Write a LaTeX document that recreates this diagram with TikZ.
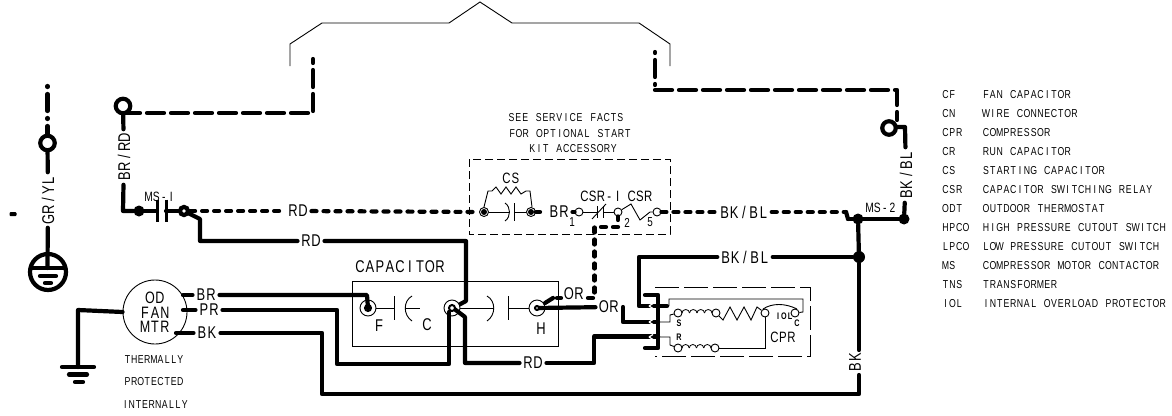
\documentclass[tikz,border=0pt]{standalone}
\usepackage{fontspec}
\setmainfont[FakeStretch=0.76]{Liberation Sans}
\ExplSyntaxOn
\NewDocumentCommand{\mono}{mm}{
  \str_map_inline:nn {#2} { \makebox[#1pt][c]{##1} }
}
\ExplSyntaxOff
\newcommand{\legendrow}[3]{%
  \node[legtxt,anchor=west] (abbr#1) at (942,#1) {\mono{6.8}{#2}};
  \node[legtxt,anchor=west] (desc#1) at (982.5,#1) {\mono{6.8}{#3}};
}
\tikzset{
  x=1pt,y=-1pt,
  wire/.style={line width=4.2pt,line cap=round,line join=round,black},
  dashlong/.style={wire,dash pattern=on 17pt off 7pt},
  dashshort/.style={wire,dash pattern=on 5pt off 7pt},
  thin line/.style={line width=0.9pt,black},
  coilline/.style={line width=0.8pt,black},
  lbl/.style={inner sep=0pt,outer sep=3.5pt,font=\fontsize{17}{17}\selectfont},
  lblv/.style={lbl,rotate=90},
  lblm/.style={inner sep=0pt,font=\fontsize{13.5}{14}\selectfont},
  lblb/.style={inner sep=0pt,font=\fontsize{17}{17}\selectfont},
  legtxt/.style={inner sep=0pt,font=\fontsize{11.5}{12}\selectfont},
  tiny/.style={inner sep=0pt,font=\bfseries\fontsize{9.5}{10}\selectfont},
  dotnode/.style={circle,fill=black,inner sep=0pt,minimum size=#1},
  ringthick/.style={circle,draw,line width=4.2pt,inner sep=0pt,minimum size=#1,fill=white},
  term/.style={circle,draw,line width=0.9pt,inner sep=0pt,minimum size=#1,fill=white},
  box/.style={line width=0.9pt,black},
  dbox/.style={line width=0.9pt,black,dash pattern=on 8pt off 4pt},
  dboxlong/.style={line width=0.9pt,black,dash pattern=on 24pt off 5pt},
}
\begin{document}
\begin{tikzpicture}
\useasboundingbox (0,0) rectangle (1172,415);
% roof
\draw[thin line] (290,66) -- (290,44) -- (322,23) -- (449,23) -- (480,2) -- (512,23) -- (639,23) -- (670,44) -- (670,66);

% ground left
\coordinate (gt) at (47.5,86);
\node[ringthick=14.5pt] (gring) at (47.5,143) {};
\node[lblv] (grlbl) at (48,200) {\mono{9.7}{GR/YL}};
\coordinate (gbar) at (47.5,268);
\draw[dashlong,dash pattern=on 1pt off 7pt on 17pt off 7pt] (gt) -- (gring);
\draw[wire] (gring) -- (grlbl);
\draw[wire] (grlbl) -- (gbar);
\node[circle,draw,line width=4.2pt,minimum size=36pt,inner sep=0pt] (gc) at (48,272) {};
\draw[wire,line cap=butt] (29,268) -- (67,268);
\draw[wire] (40,276) -- (56,276);
\draw[wire] (45,283) -- (51,283);
\node[fill=black,minimum width=7pt,minimum height=4pt,inner sep=0pt,rounded corners=1pt] (speck) at (13,214) {};

% top-left
\node[ringthick=14.5pt] (lring) at (123,106) {};
\coordinate (lup) at (313,59);
\coordinate (lcor) at (313,113);
\draw[dashlong] (123,113) -- (lcor) -- (lup);
\node[lblv] (brrd) at (124,157) {\mono{9.7}{BR/RD}};
\draw[wire] (lring) -- (brrd);
\coordinate (brc) at (123,211);
\node[dotnode=11pt] (msdot) at (139,211) {};
\draw[wire] (brrd) -- (brc) -- (msdot);
\node[lblm] (ms1) at (160,197) {\mono{7.6}{MS-I}};
\coordinate (p1) at (157,211);
\coordinate (p2) at (166,211);
\draw[wire] (msdot) -- (p1);
\draw[line width=3pt] (157,199.5) -- (157,221.5);
\draw[line width=3pt] (166,199.5) -- (166,221.5);
\node[ringthick=8pt] (mst) at (184,211) {};
\draw[wire] (p2) -- (mst);

% RD dashed
\node[lbl] (rd1) at (298,211) {\mono{10}{RD}};
\draw[dashshort] (mst) -- (rd1);
% RD solid
\coordinate (c1) at (200,219);
\coordinate (c2) at (200,241);
\node[lbl] (rd2) at (311,241) {\mono{10}{RD}};
\draw[wire] (mst) -- (c1) -- (c2) -- (rd2);
\coordinate (c3) at (466,241);
\coordinate (c4) at (466,301);
\coordinate (c5) at (453,308);
\draw[wire] (rd2) -- (c3) -- (c4) -- (c5);

% CS group
\draw[dbox] (469,159) rectangle (670,234);
\node[legtxt] at (566,118) {\mono{6.8}{SEE SERVICE FACTS}};
\node[legtxt] at (570,134) {\mono{6.8}{FOR OPTIONAL START}};
\node[legtxt] at (573,149) {\mono{6.8}{KIT ACCESSORY}};
\node[lblm,font=\fontsize{15}{15}\selectfont] (cslbl) at (511,178) {\mono{9}{CS}};
\node[term=9pt] (cs1) at (484,212) {};
\node[term=9pt] (cs2) at (531,212) {};
\draw[dashshort] (rd1) -- (cs1);
\node[dotnode=6pt] at (cs1) {};
\node[dotnode=6pt] at (cs2) {};
\draw[thin line] (cs1) -- (509,212);
\draw[thin line] (514,212) -- (cs2);
\draw[thin line] (514,203) -- (514,221);
\draw[thin line] (505,203) .. controls (511,207) and (511,217) .. (505,221);
\draw[thin line] (484,207) -- (488,191) -- (492,191) -- (496,187) -- (501,194) -- (506,187) -- (511,194) -- (516,187) -- (521,194) -- (526,191) -- (530,191) -- (532,207);
\node[lbl] (brl) at (559,212) {\mono{10}{BR}};
\draw[wire] (cs2) -- (540,212);
\node[term=8pt] (t1) at (579,212) {};
\draw[wire] (brl) -- (t1);
\node[term=8pt] (t2) at (618,212) {};
\node[term=8pt] (t5) at (657,212) {};
\draw[thin line] (t1) -- (597,212);
\draw[thin line] (597,206) -- (597,218);
\draw[thin line] (592,219) -- (606,204);
\draw[thin line] (603,206) -- (603,218);
\draw[thin line] (603,212) -- (t2);
\draw[thin line] (t2) -- (631,204) -- (640,220) -- (650,212) -- (t5);
\node[lblm,font=\fontsize{15}{15}\selectfont] at (601,196.5) {\mono{8.3}{CSR-I}};
\node[lblm,font=\fontsize{15}{15}\selectfont] at (640,196.5) {\mono{8.3}{CSR}};
\node[inner sep=0pt,font=\fontsize{13}{13}\selectfont] at (572,222.5) {1};
\node[inner sep=0pt,font=\fontsize{13}{13}\selectfont] at (627,222.5) {2};
\node[inner sep=0pt,font=\fontsize{13}{13}\selectfont] at (650,222.5) {5};
\node[lbl] (bkbl1) at (744,212) {\mono{9.7}{BK/BL}};
\draw[dashshort] (t5) -- (bkbl1);
\coordinate (msend) at (846,212);
\coordinate (ms2a) at (848,219);
\draw[dashshort] (bkbl1) -- (msend);
\draw[wire] (msend) -- (ms2a);
\node[dotnode=11pt] (d2) at (858,219) {};
\node[dotnode=11pt] (d3) at (904,219) {};
\node[dotnode=12pt] (d4) at (859,257) {};
\draw[wire] (ms2a) -- (d2) -- (d3);
\node[lblm] at (881,208) {\mono{7.6}{MS-2}};
\node[lblv] (bkbl2) at (906,175) {\mono{9.7}{BK/BL}};
\draw[wire] (d3) -- (bkbl2);
\coordinate (rc) at (905,127);
\node[ringthick=13.5pt] (rring) at (889,128) {};
\draw[wire] (bkbl2) -- (rc) -- (897,127);
\coordinate (rtop) at (655,52);
\coordinate (rcor) at (655,90);
\coordinate (rcor2) at (897,90);
\draw[dashlong,dash pattern=on 1pt off 7pt on 17pt off 7pt] (rtop) -- (rcor);
\draw[dashlong] (rcor) -- (rcor2) -- (897,120);

% second BK/BL
\node[lbl] (bkbl3) at (745,257) {\mono{9.7}{BK/BL}};
\draw[wire] (d4) -- (bkbl3);
\draw[wire] (d2) -- (d4);
\coordinate (b1) at (639,257);
\coordinate (b2) at (639,306);
\coordinate (pin1) at (667,306);
\draw[wire] (bkbl3) -- (b1) -- (b2) -- (pin1);

% BK long
\node[lblv] (bklbl) at (855,362) {\mono{10}{BK}};
\draw[wire] (d4) -- (859,350);
\node[lbl] (bkm) at (207,333) {\mono{10}{BK}};
\coordinate (bk1) at (322,333);
\coordinate (bk2) at (322,394);
\coordinate (bk3) at (859,394);
\coordinate (bk4) at (859,375);
\draw[wire] (bkm) -- (bk1) -- (bk2) -- (bk3) -- (bk4);

% motor
\node[circle,draw,line width=0.9pt,minimum size=64pt,inner sep=0pt] (mot) at (155,312) {};
\node[inner sep=0pt,align=center,font=\fontsize{16.5}{14.5}\selectfont] (mtxt) at (155,312.5) {\mono{10}{OD}\\\mono{10}{FAN}\\\mono{10}{MTR}};
\node[legtxt] at (154,360) {\mono{6.6}{THERMALLY}};
\node[legtxt] at (154,382) {\mono{6.6}{PROTECTED}};
\node[legtxt] at (155,405) {\mono{6.6}{INTERNALLY}};
\node[lbl] (brm) at (206,295) {\mono{10}{BR}};
\node[lbl] (prm) at (209,310) {\mono{10}{PR}};
\draw[wire] (183,295) -- (brm);
\draw[wire] (183,310) -- (prm);
\draw[wire] (176,333) -- (bkm);
\coordinate (g1) at (78,310);
\coordinate (g2) at (78,367);
\draw[wire] (mot.west) -- (g1) -- (g2);
\draw[wire] (62,367) -- (94,367);
\draw[wire] (69,374.5) -- (87,374.5);
\draw[wire] (75,382) -- (83,382);

% capacitor
\draw[box] (352,281) rectangle (558,346);
\node[lblb] at (400,267) {\mono{10}{CAPACITOR}};
\node[term=16pt] (tF) at (368,308) {};
\node[term=16pt] (tC) at (452,308) {};
\node[term=16pt] (tH) at (537,308) {};
\node[lblb] at (379,326) {F};
\node[lblb] at (427,325) {C};
\node[lblb] at (541,329) {H};
\draw[thin line] (tF) -- (394,308);
\draw[thin line] (394,296) -- (394,320);
\draw[thin line] (412,296) .. controls (403,301) and (403,315) .. (412,321);
\draw[thin line] (405,308) -- (420,308);
\draw[thin line] (tC) -- (494,308);
\draw[thin line] (508,308) -- (tH);
\draw[thin line] (487,296) .. controls (496,301) and (496,315) .. (487,321);
\draw[thin line] (508,296) -- (508,320);
% BR wire to F
\coordinate (f1) at (367,295);
\draw[wire] (brm) -- (f1) -- (tF.center);
\draw[line width=2pt] (tF.center) circle (3pt);
% PR wire to C
\coordinate (pr1) at (337,310);
\coordinate (pr2) at (337,364);
\coordinate (pr3) at (449,364);
\draw[wire] (prm) -- (pr1) -- (pr2) -- (pr3) -- (449,312);
% RD lower
\coordinate (r1) at (465,317);
\coordinate (r2) at (465,363);
\node[lbl] (rd3) at (533,363) {\mono{10}{RD}};
\draw[wire] (c5) -- (r1) -- (r2) -- (rd3);
\coordinate (r3) at (594,363);
\coordinate (r4) at (594,336.5);
\coordinate (pin3) at (658,336.5);
\draw[wire] (rd3) -- (r3) -- (r4) -- (pin3);
\draw[line width=2pt,fill=white] (tC.center) circle (3pt);
% H & OR
\node[lbl] (or1) at (609,307) {\mono{10}{OR}};
\draw[wire] (tH.center) -- (or1);
\draw[line width=2pt,fill=white] (tH.center) circle (2pt);
\node[lbl] (or2) at (574,294) {\mono{10}{OR}};
\coordinate (oh) at (545,303);
\coordinate (oh2) at (553,298);
\draw[wire] (oh) -- (oh2);
\draw[wire] (557,298) -- (561,298);
\coordinate (od1) at (594.5,298);
\coordinate (od2) at (594.5,227);
\coordinate (od3) at (618,227);
\draw[dashshort] (588,298) -- (od1) -- (od2) -- (od3) -- (t2);
% OR to pin
\coordinate (o1) at (623,307);
\coordinate (o2) at (623,322);
\coordinate (pin2) at (658,322);
\draw[wire] (o1) -- (o2) -- (pin2);

% compressor
\draw[dboxlong] (655,287) -- (810,287) -- (810,356) -- (655,356);
\draw[wire] (645,295) -- (658,295) -- (658,348) -- (645,348);
\node[term=8pt] (ts) at (678,313) {};
\node[term=8pt] (tm) at (716,313) {};
\node[term=8pt] (tj) at (765,313) {};
\node[term=8pt] (tc) at (795,313) {};
\node[term=8pt] (tr) at (678,348) {};
\node[term=8pt] (tn) at (715,348) {};
\draw[thin line] (669,306) -- (669,299) -- (803,299) -- (803,312) -- (tc);
\draw[thin line] (658,322) -- (670,322) -- (670,315) -- (ts);
\draw[thin line] (658,337) -- (670,337) -- (670,345) -- (tr);
\foreach \a in {682,689.5,697,704.5}{\draw[coilline] (\a,313) arc[start angle=180,end angle=0,x radius=3.75pt,y radius=3.5pt];}
\foreach \a in {682,689.25,696.5,703.75}{\draw[coilline] (\a,348) arc[start angle=180,end angle=0,x radius=3.6pt,y radius=3.5pt];}
\draw[thin line] (tm) -- (723,320) -- (730,307) -- (737,320) -- (744,307) -- (751,320) -- (757,307) -- (tj);
\draw[thin line] (tj) -- (765,348) -- (tn);
\draw[thin line] (763,309) .. controls (772,303) and (785,303) .. (797,309);
\node[tiny] at (679,323) {S};
\node[tiny] at (679,337) {R};
\node[tiny] at (784,316) {\mono{6}{IOL}};
\node[tiny] at (797,323) {C};
\node[lblm,font=\fontsize{15}{15}\selectfont] at (783,337) {\mono{8.5}{CPR}};
\foreach \yy in {306,322,337}{\draw[line width=1.2pt,white] (649,\yy) -- (653,\yy-2.5) (649,\yy) -- (653,\yy+2.5);}

% legend
\legendrow{95}{CF}{FAN CAPACITOR}
\legendrow{114}{CN}{WIRE CONNECTOR}
\legendrow{133}{CPR}{COMPRESSOR}
\legendrow{152}{CR}{RUN CAPACITOR}
\legendrow{171}{CS}{STARTING CAPACITOR}
\legendrow{190}{CSR}{CAPACITOR SWITCHING RELAY}
\legendrow{209}{ODT}{OUTDOOR THERMOSTAT}
\legendrow{228}{HPCO}{HIGH PRESSURE CUTOUT SWITCH}
\legendrow{247}{LPCO}{LOW PRESSURE CUTOUT SWITCH}
\legendrow{266}{MS}{COMPRESSOR MOTOR CONTACTOR}
\legendrow{285}{TNS}{TRANSFORMER}
\legendrow{304}{IOL}{INTERNAL OVERLOAD PROTECTOR}
\end{tikzpicture}
\end{document}
